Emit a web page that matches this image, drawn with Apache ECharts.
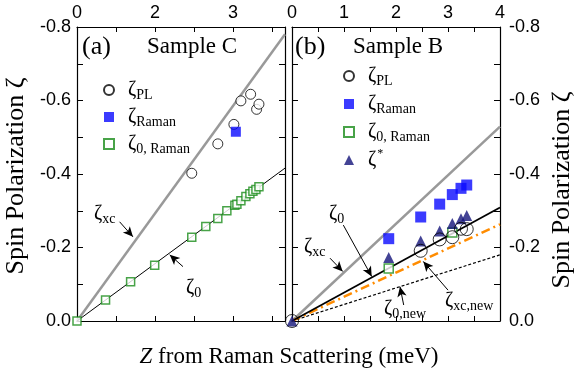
<!DOCTYPE html>
<html><head><meta charset="utf-8">
<script src="https://cdn.jsdelivr.net/npm/echarts@6/dist/echarts.min.js"></script>
<style>html,body{margin:0;padding:0;background:#fff}#c{width:580px;height:376px}</style>
</head><body><div id="c"></div>
<script>
// ---------- Panel (a): Sample C ----------
const aTopTickVals = [0, 1.5, 3];
const aTopTickLabels = ['0', '2', '3'];
const aXcLine = [[0, 0], [4, -0.78]];
const aZ0Line = [[0, 0], [4, -0.416]];
const aPL_x = [2.207, 2.708, 3.017, 3.152, 3.339, 3.454, 3.499];
const aPL_y = [-0.402, -0.482, -0.535, -0.599, -0.617, -0.576, -0.590];
const aRaman_x = [3.055];
const aRaman_y = [-0.515];
const aZ0R_x = [0, 0.549, 1.031, 1.494, 2.207, 2.477, 2.708, 2.882, 3.036, 3.075, 3.152, 3.248, 3.325, 3.383, 3.441, 3.499];
const aZ0R_y = [0, -0.057, -0.107, -0.152, -0.228, -0.257, -0.279, -0.300, -0.315, -0.318, -0.327, -0.339, -0.346, -0.353, -0.358, -0.365];

// ---------- Panel (b): Sample B ----------
const bXcLine = [[0, 0], [4, -0.529]];
const bZ0Line = [[0, 0], [4, -0.309]];
const bXcNewLine = [[0, 0], [4, -0.263]];
const bZ0NewLine = [[0, 0], [4, -0.180]];
const bPL_x = [0, 2.475, 2.84, 3.083, 3.25, 3.36];
const bPL_y = [0, -0.191, -0.222, -0.228, -0.251, -0.250];
const bRaman_x = [1.86, 2.475, 2.84, 3.083, 3.25, 3.36];
const bRaman_y = [-0.224, -0.283, -0.318, -0.344, -0.361, -0.370];
const bZ0R_x = [1.86, 3.083];
const bZ0R_y = [-0.143, -0.241];
const bStar_x = [0, 1.86, 2.475, 2.84, 3.083, 3.25, 3.36];
const bStar_y = [0, -0.173, -0.218, -0.245, -0.265, -0.278, -0.287];

const yTicks = {min: -0.8, max: 0, interval: 0.2};

const zip = (xs, ys) => xs.map((x, i) => [x, ys[i]]);
const SERIF = "'Liberation Serif','DejaVu Serif',serif";
const SANS = "'Liberation Sans',Arial,sans-serif";

const richG = {
  m: {fontSize: 20, fontFamily: SERIF, color: '#000', lineHeight: 24},
  s: {fontSize: 14, fontFamily: SERIF, color: '#000', lineHeight: 14, padding: [10, 0, 0, 0]},
  p: {fontSize: 12, fontFamily: SERIF, color: '#000', lineHeight: 12, padding: [0, 0, 12, 1]}
};
const richLegend = Object.assign({}, richG, {
  m: {fontSize: 20, fontFamily: SERIF, color: '#000', lineHeight: 24, padding: [0, 0, 0, 9]}
});
const legendFmt = {
  'ζPL': '{m|ζ}{s|PL}',
  'ζRaman': '{m|ζ}{s|Raman}',
  'ζ0, Raman': '{m|ζ}{s|0, Raman}',
  'ζ*': '{m|ζ}{p|*}'
};

function xAxisCfg(gridIndex, position, showLabel, opts) {
  return Object.assign({
    type: 'value', gridIndex, position, min: 0, max: 4,
    axisLine: {show: true, onZero: false, lineStyle: {color: '#000', width: 1.2}},
    axisTick: {show: true, inside: true, length: 5, lineStyle: {color: '#000'}},
    axisLabel: {show: showLabel, color: '#000', fontSize: 18, fontFamily: SANS, margin: 5},
    splitLine: {show: false}
  }, opts);
}
function yAxisCfg(gridIndex, position, showLabel) {
  return {
    type: 'value', gridIndex, position, inverse: true,
    min: yTicks.min, max: yTicks.max, interval: yTicks.interval,
    axisLine: {show: true, onZero: false, lineStyle: {color: '#000', width: 1.2}},
    axisTick: {show: true, inside: true, length: 6, lineStyle: {color: '#000'}},
    minorTick: {show: true, splitNumber: 2, length: 6, lineStyle: {color: '#000'}},
    axisLabel: {show: showLabel, color: '#000', fontSize: 18, fontFamily: SANS, margin: position === 'left' ? 6 : 9,
      formatter: v => v.toFixed(1)},
    splitLine: {show: false}, minorSplitLine: {show: false}
  };
}

const arrowML = (data) => ({
  silent: true, symbol: ['none', 'arrow'], symbolSize: [7, 10],
  label: {show: false}, lineStyle: {color: '#000', width: 1, type: 'solid'},
  emphasis: {disabled: true}, data
});
const lineSeries = (name, data, xi, yi, style, ml) => {
  const s = {name, type: 'line', data, xAxisIndex: xi, yAxisIndex: yi, showSymbol: false,
    lineStyle: style, silent: true, z: 1};
  if (ml) s.markLine = ml;
  return s;
};

const openCircle = {color: '#fff', borderColor: '#000', borderWidth: 1};
const openSquare = {color: '#fff', borderColor: '#1a8c1a', borderWidth: 1.5};

const chart = echarts.init(document.getElementById('c'), null, {renderer: 'canvas'});
chart.setOption({
  animation: false,
  backgroundColor: '#fff',
  grid: [
    {left: 77, right: 295, top: 27, bottom: 55},
    {left: 292, right: 80, top: 27, bottom: 55}
  ],
  xAxis: [
    xAxisCfg(0, 'top', true, {interval: 0.75, axisLabel: {show: true, color: '#000', fontSize: 18, fontFamily: SANS, margin: 5,
      showMaxLabel: false,
      formatter: v => { const i = aTopTickVals.findIndex(t => Math.abs(t - v) < 1e-9); return i >= 0 ? aTopTickLabels[i] : ''; }}}),
    xAxisCfg(0, 'bottom', false, {interval: 0.75}),
    xAxisCfg(1, 'top', true, {interval: 1, minorTick: {show: true, splitNumber: 2, length: 5, lineStyle: {color: '#000'}}}),
    xAxisCfg(1, 'bottom', false, {interval: 1, minorTick: {show: true, splitNumber: 2, length: 5, lineStyle: {color: '#000'}}})
  ],
  yAxis: [
    yAxisCfg(0, 'left', true),
    yAxisCfg(0, 'right', false),
    yAxisCfg(1, 'left', false),
    yAxisCfg(1, 'right', true)
  ],
  legend: [
    {orient: 'vertical', left: 98, top: 73, itemWidth: 10, itemHeight: 10, itemGap: 3, selectedMode: false,
      data: ['ζPL', 'ζRaman', 'ζ0, Raman'], formatter: n => legendFmt[n], textStyle: {rich: richLegend}},
    {orient: 'vertical', left: 338, top: 59, itemWidth: 10, itemHeight: 10, itemGap: 4, selectedMode: false,
      data: ['ζPL', 'ζRaman', 'ζ0, Raman', 'ζ*'], formatter: n => legendFmt[n], textStyle: {rich: richLegend}}
  ],
  series: [
    // panel (a)
    lineSeries('ζxc a', aXcLine, 0, 0, {color: '#999', width: 2.5}),
    lineSeries('ζ0 a', aZ0Line, 0, 0, {color: '#000', width: 1},
      arrowML([
        [{coord: [0.819, -0.270]}, {coord: [1.076, -0.229]}],
        [{coord: [2.038, -0.148]}, {coord: [1.783, -0.180]}]
      ])),
    {name: 'ζ0, Raman', type: 'scatter', xAxisIndex: 0, yAxisIndex: 0, data: zip(aZ0R_x, aZ0R_y),
      symbol: 'rect', symbolSize: 8, itemStyle: openSquare, z: 3},
    {name: 'ζPL', type: 'scatter', xAxisIndex: 0, yAxisIndex: 0, data: zip(aPL_x, aPL_y),
      symbol: 'circle', symbolSize: 10, itemStyle: openCircle, z: 3},
    {name: 'ζRaman', type: 'scatter', xAxisIndex: 0, yAxisIndex: 0, data: zip(aRaman_x, aRaman_y),
      symbol: 'rect', symbolSize: 10, itemStyle: {color: '#0a0aff'}, z: 4},
    // panel (b)
    lineSeries('ζxc b', bXcLine, 2, 2, {color: '#999', width: 2.5}),
    lineSeries('ζ0,new b', bZ0NewLine, 2, 2, {color: '#000', width: 1.2, type: [3, 2]}),
    lineSeries('ζxc,new b', bXcNewLine, 2, 2, {color: '#ff8c00', width: 2.5, type: [9, 4, 2, 4]}),
    lineSeries('ζ0 b', bZ0Line, 2, 2, {color: '#000', width: 1.8},
      arrowML([
        [{coord: [0.987, -0.261]}, {coord: [1.533, -0.121]}],
        [{coord: [0.731, -0.171]}, {coord: [0.975, -0.135]}],
        [{coord: [3.0, -0.084]}, {coord: [2.525, -0.162]}],
        [{coord: [2.148, -0.0435]}, {coord: [2.077, -0.0933]}]
      ])),
    {name: 'ζ0, Raman', type: 'scatter', xAxisIndex: 2, yAxisIndex: 2, data: zip(bZ0R_x, bZ0R_y),
      symbol: 'rect', symbolSize: 9, itemStyle: openSquare, z: 3},
    {name: 'ζRaman', type: 'scatter', xAxisIndex: 2, yAxisIndex: 2, data: zip(bRaman_x, bRaman_y),
      symbol: 'rect', symbolSize: 11, itemStyle: {color: '#0a0aff'}, z: 3},
    {name: 'ζPL', type: 'scatter', xAxisIndex: 2, yAxisIndex: 2, data: zip(bPL_x, bPL_y),
      symbol: 'circle', symbolSize: 13, itemStyle: {color: 'rgba(255,255,255,0)', borderColor: '#000', borderWidth: 1}, z: 4},
    {name: 'ζ*', type: 'scatter', xAxisIndex: 2, yAxisIndex: 2, data: zip(bStar_x, bStar_y),
      symbol: 'triangle', symbolSize: 11, itemStyle: {color: '#14147a'}, z: 3}
  ],
  graphic: [
    {type: 'text', x: 82, y: 47, style: {text: '(a)', font: "26px " + SERIF, fill: '#000', verticalAlign: 'middle'}},
    {type: 'text', x: 147, y: 47, style: {text: 'Sample C', font: "23px " + SERIF, fill: '#000', verticalAlign: 'middle'}},
    {type: 'text', x: 295, y: 47, style: {text: '(b)', font: "26px " + SERIF, fill: '#000', verticalAlign: 'middle'}},
    {type: 'text', x: 353, y: 47, style: {text: 'Sample B', font: "23px " + SERIF, fill: '#000', verticalAlign: 'middle'}},
    {type: 'text', x: 94, y: 214, style: {text: '{m|ζ}{s|xc}', rich: richG, verticalAlign: 'middle'}},
    {type: 'text', x: 186, y: 288, style: {text: '{m|ζ}{s|0}', rich: richG, verticalAlign: 'middle'}},
    {type: 'text', x: 329, y: 214, style: {text: '{m|ζ}{s|0}', rich: richG, verticalAlign: 'middle'}},
    {type: 'text', x: 304, y: 247, style: {text: '{m|ζ}{s|xc}', rich: richG, verticalAlign: 'middle'}},
    {type: 'text', x: 445, y: 301, style: {text: '{m|ζ}{s|xc,new}', rich: richG, verticalAlign: 'middle'}},
    {type: 'text', x: 384, y: 309, style: {text: '{m|ζ}{s|0,new}', rich: richG, verticalAlign: 'middle'}},
    {type: 'text', x: 289, y: 357, style: {text: '{i|Z}{n| from Raman Scattering (meV)}',
      rich: {i: {fontSize: 23, fontFamily: SERIF, fontStyle: 'italic', color: '#000'}, n: {fontSize: 23, fontFamily: SERIF, color: '#000'}},
      align: 'center', verticalAlign: 'middle'}},
    {type: 'text', x: 16, y: 176, rotation: Math.PI / 2, style: {text: 'Spin Polarization ζ', font: "26px " + SERIF, fill: '#000', align: 'center', verticalAlign: 'middle'}},
    {type: 'text', x: 562, y: 190, rotation: Math.PI / 2, style: {text: 'Spin Polarization ζ', font: "26px " + SERIF, fill: '#000', align: 'center', verticalAlign: 'middle'}}
  ]
});
</script></body></html>
